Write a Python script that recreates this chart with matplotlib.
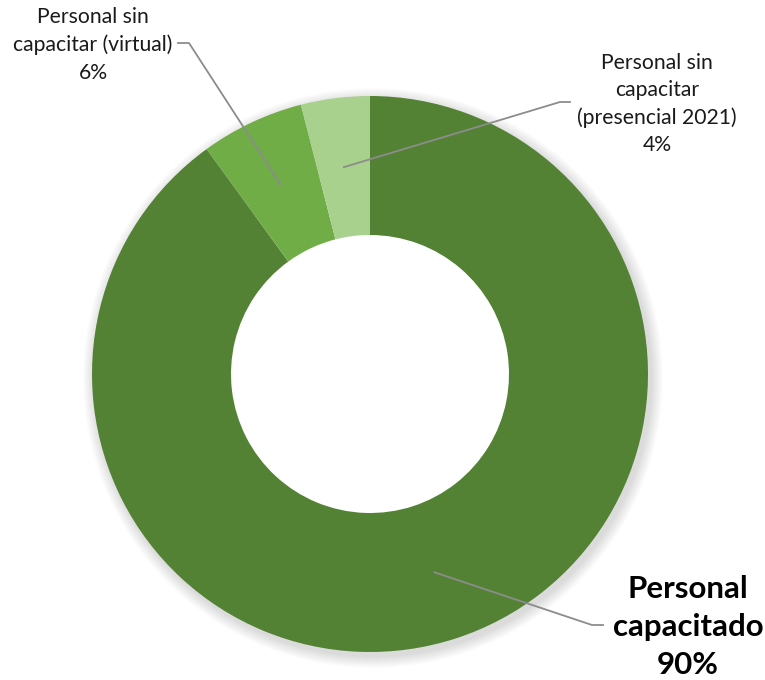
import numpy as np
import matplotlib
matplotlib.use("Agg")
import matplotlib.pyplot as plt
from matplotlib.patches import Wedge

categories = ["Personal capacitado", "Personal sin capacitar (virtual)",
              "Personal sin capacitar (presencial 2021)"]
values = [90, 6, 4]
label_texts = ["Personal\ncapacitado\n90%", "Personal sin\ncapacitar (virtual)\n6%",
               "Personal sin\ncapacitar\n(presencial 2021)\n4%"]
colors = ["#548235", "#70AD47", "#A9D18E"]

W, H = 765, 680
fig = plt.figure(figsize=(W / 100, H / 100), dpi=100)
ax = fig.add_axes([0, 0, 1, 1])
ax.set_xlim(0, W)
ax.set_ylim(0, H)
ax.set_aspect("equal")
ax.axis("off")

cx, cy, R = 370, H - 374, 278
ring = 0.5

# soft shadow (outer side only)
for k in range(12):
    ax.add_patch(Wedge((cx + 3, cy - 4), R + 12 - k, 0, 360, width=R * 0.3,
                       color="black", alpha=0.010, lw=0, zorder=0))

wedges, _ = ax.pie(values, colors=colors, startangle=90, counterclock=False,
                   radius=R, center=(cx, cy),
                   wedgeprops=dict(width=R * ring, linewidth=0), frame=True)
ax.set_xlim(0, W)
ax.set_ylim(0, H)
ax.axis("off")

font = "Lato"
layout = [
    dict(txt=(688, H - 627), elbow=(592, H - 625), end=(603, H - 625),
         size=22.5, weight="bold", ls=1.45),
    dict(txt=(93, H - 45), elbow=(189, H - 43), end=(178, H - 43),
         size=15.2, weight="normal", ls=1.48),
    dict(txt=(657, H - 104), elbow=(560, H - 102), end=(570, H - 102),
         size=15.2, weight="normal", ls=1.45),
]

for w, lab, lay in zip(wedges, label_texts, layout):
    mid = np.deg2rad((w.theta1 + w.theta2) / 2)
    r_anchor = R * (1 - ring / 2)
    ax_pt = (cx + r_anchor * np.cos(mid), cy + r_anchor * np.sin(mid))
    ax.plot([ax_pt[0], lay["elbow"][0], lay["end"][0]],
            [ax_pt[1], lay["elbow"][1], lay["end"][1]],
            color="#8c8c8c", lw=1.3, zorder=5)
    ax.text(lay["txt"][0], lay["txt"][1], lab, ha="center", va="center",
            fontsize=lay["size"], fontweight=lay["weight"], family=font,
            color="#1a1a1a" if lay["weight"] == "normal" else "black",
            linespacing=lay["ls"], zorder=6)

fig.savefig("out.png", dpi=100, facecolor="white")
